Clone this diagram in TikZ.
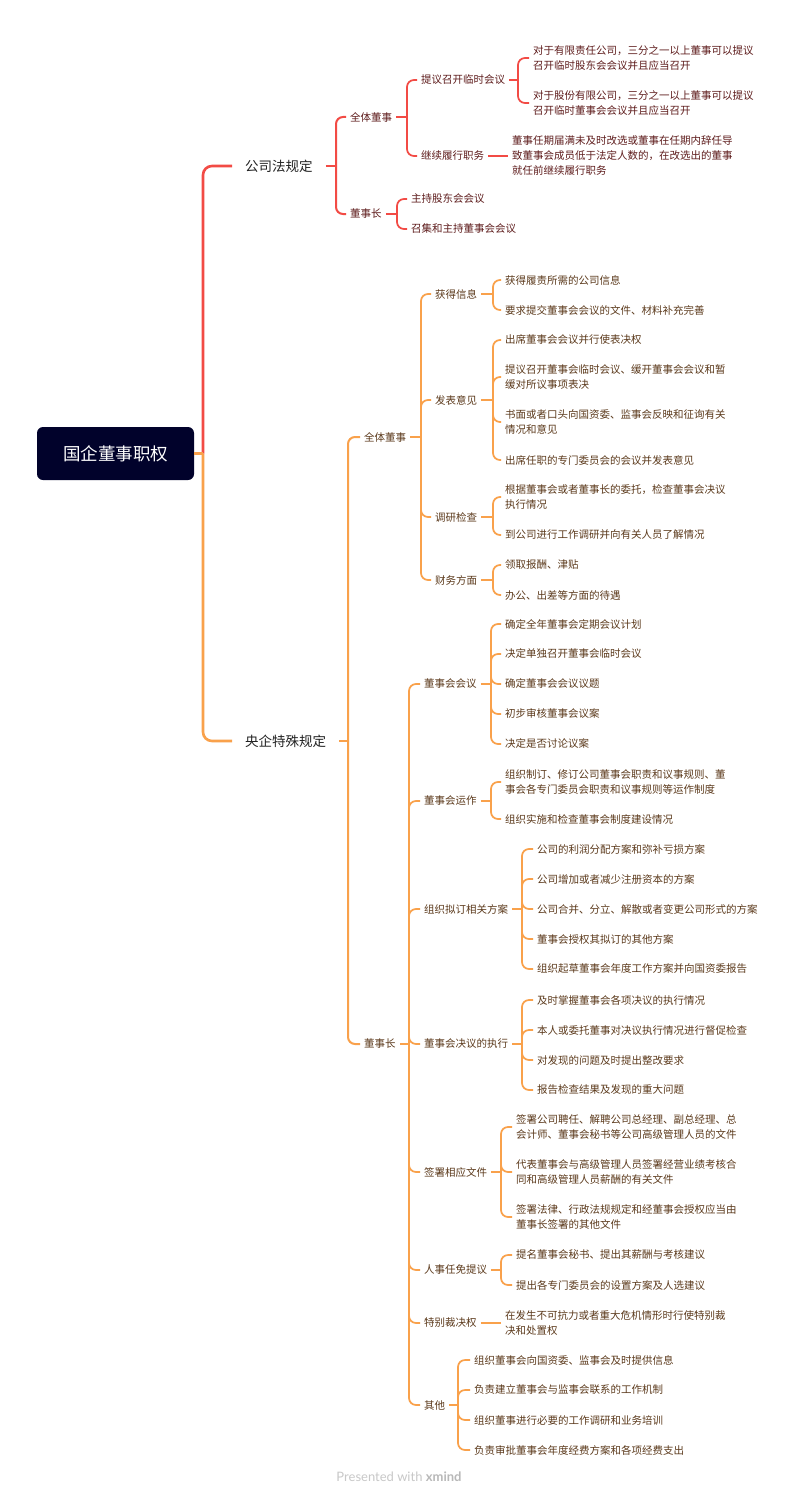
\documentclass[tikz,border=0pt]{standalone}
\usepackage{fontspec}
\setmainfont{Noto Sans CJK SC}
\newfontfamily\footfont{Lato}
\definecolor{redline}{HTML}{F24B45}
\definecolor{orline}{HTML}{F9A14B}
\definecolor{redtext}{HTML}{5E1C1C}
\definecolor{ortext}{HTML}{5C3A1C}
\definecolor{lonetext}{HTML}{222222}
\definecolor{rootfill}{HTML}{01022B}
\definecolor{footgray}{HTML}{C8C8C8}
\definecolor{footdark}{HTML}{B8B8B8}
\begin{document}
\begin{tikzpicture}[x=1pt,y=-1pt,
  rootbox/.style={rectangle,rounded corners=6pt,fill=rootfill,text=white,
    font=\fontsize{17.5}{20}\selectfont,minimum width=157pt,minimum height=53pt,inner sep=0pt},
  lone/.style={anchor=west,inner xsep=13pt,inner ysep=2pt,text=lonetext,
    font=\fontsize{13.5}{16}\selectfont},
  nR/.style={anchor=west,inner xsep=4pt,inner ysep=1pt,align=left,text=redtext,
    font=\fontsize{10.5}{15}\selectfont},
  nO/.style={nR,text=ortext},
  trunkR/.style={draw=redline,line width=2.6pt,rounded corners=9pt},
  trunkO/.style={draw=orline,line width=2.6pt,rounded corners=9pt},
  lR2/.style={draw=redline,line width=2pt,rounded corners=7pt},
  lO2/.style={draw=orline,line width=2pt,rounded corners=7pt},
  lR3/.style={draw=redline,line width=1.7pt,rounded corners=7pt},
  lO3/.style={draw=orline,line width=1.7pt,rounded corners=7pt}]
\useasboundingbox (0,0) rectangle (800,1501);
\fill[white] (0,0) rectangle (800,1501);

% root and main branches
\node[rootbox] (root) at (115.5,453.5) {国企董事职权};
\node[lone] (A) at (232,166) {公司法规定};
\node[lone] (B) at (232,741) {央企特殊规定};

% ---------- red branch ----------
\node[nR] (A1) at (346,117) {全体董事};
\node[nR] (A2) at (346,214) {董事长};
\node[nR] (A11) at (417,80) {提议召开临时会议};
\node[nR] (A12) at (417,156) {继续履行职务};
\node[nR] (A111) at (529,58) {对于有限责任公司，三分之一以上董事可以提议\\召开临时股东会会议并且应当召开};
\node[nR] (A112) at (529,103) {对于股份有限公司，三分之一以上董事可以提议\\召开临时董事会会议并且应当召开};
\node[nR] (A121) at (508,156) {董事任期届满未及时改选或董事在任期内辞任导\\致董事会成员低于法定人数的，在改选出的董事\\就任前继续履行职务};
\node[nR] (A21) at (407,199) {主持股东会会议};
\node[nR] (A22) at (407,229) {召集和主持董事会会议};

% ---------- orange branch ----------
\node[nO] (B1) at (360,437) {全体董事};
\node[nO] (B2) at (360,1044) {董事长};
\node[nO] (B11) at (431,294) {获得信息};
\node[nO] (B12) at (431,400) {发表意见};
\node[nO] (B13) at (431,517) {调研检查};
\node[nO] (B14) at (431,580) {财务方面};
\node[nO] (B111) at (501,280) {获得履责所需的公司信息};
\node[nO] (B112) at (501,310) {要求提交董事会会议的文件、材料补充完善};
\node[nO] (B121) at (501,340) {出席董事会会议并行使表决权};
\node[nO] (B122) at (501,377) {提议召开董事会临时会议、缓开董事会会议和暂\\缓对所议事项表决};
\node[nO] (B123) at (501,422) {书面或者口头向国资委、监事会反映和征询有关\\情况和意见};
\node[nO] (B124) at (501,460) {出席任职的专门委员会的会议并发表意见};
\node[nO] (B131) at (501,497) {根据董事会或者董事长的委托，检查董事会决议\\执行情况};
\node[nO] (B132) at (501,535) {到公司进行工作调研并向有关人员了解情况};
\node[nO] (B141) at (501,565) {领取报酬、津贴};
\node[nO] (B142) at (501,595) {办公、出差等方面的待遇};

\node[nO] (B21) at (420,684) {董事会会议};
\node[nO] (B22) at (420,801) {董事会运作};
\node[nO] (B23) at (420,909) {组织拟订相关方案};
\node[nO] (B24) at (420,1044) {董事会决议的执行};
\node[nO] (B25) at (420,1172) {签署相应文件};
\node[nO] (B26) at (420,1270) {人事任免提议};
\node[nO] (B27) at (420,1323) {特别裁决权};
\node[nO] (B28) at (420,1405) {其他};

\node[nO] (B211) at (501,624) {确定全年董事会定期会议计划};
\node[nO] (B212) at (501,654) {决定单独召开董事会临时会议};
\node[nO] (B213) at (501,684) {确定董事会会议议题};
\node[nO] (B214) at (501,714) {初步审核董事会议案};
\node[nO] (B215) at (501,744) {决定是否讨论议案};
\node[nO] (B221) at (501,782) {组织制订、修订公司董事会职责和议事规则、董\\事会各专门委员会职责和议事规则等运作制度};
\node[nO] (B222) at (501,819) {组织实施和检查董事会制度建设情况};
\node[nO] (B231) at (533,849) {公司的利润分配方案和弥补亏损方案};
\node[nO] (B232) at (533,879) {公司增加或者减少注册资本的方案};
\node[nO] (B233) at (533,909) {公司合并、分立、解散或者变更公司形式的方案};
\node[nO] (B234) at (533,939) {董事会授权其拟订的其他方案};
\node[nO] (B235) at (533,969) {组织起草董事会年度工作方案并向国资委报告};
\node[nO] (B241) at (533,1000) {及时掌握董事会各项决议的执行情况};
\node[nO] (B242) at (533,1030) {本人或委托董事对决议执行情况进行督促检查};
\node[nO] (B243) at (533,1060) {对发现的问题及时提出整改要求};
\node[nO] (B244) at (533,1090) {报告检查结果及发现的重大问题};
\node[nO] (B251) at (512,1127) {签署公司聘任、解聘公司总经理、副总经理、总\\会计师、董事会秘书等公司高级管理人员的文件};
\node[nO] (B252) at (512,1172) {代表董事会与高级管理人员签署经营业绩考核合\\同和高级管理人员薪酬的有关文件};
\node[nO] (B253) at (512,1217) {签署法律、行政法规规定和经董事会授权应当由\\董事长签署的其他文件};
\node[nO] (B261) at (512,1255) {提名董事会秘书、提出其薪酬与考核建议};
\node[nO] (B262) at (512,1285) {提出各专门委员会的设置方案及人选建议};
\node[nO] (B271) at (501,1323) {在发生不可抗力或者重大危机情形时行使特别裁\\决和处置权};
\node[nO] (B281) at (470,1360) {组织董事会向国资委、监事会及时提供信息};
\node[nO] (B282) at (470,1390) {负责建立董事会与监事会联系的工作机制};
\node[nO] (B283) at (470,1420) {组织董事进行必要的工作调研和业务培训};
\node[nO] (B284) at (470,1450) {负责审批董事会年度经费方案和各项经费支出};

% footer
\node[font=\footfont\fontsize{13}{15}\selectfont,text=footgray] (foot) at (399,1477) {Presented with \textcolor{footdark}{\textbf{xmind}}};

% ---------- junctions ----------
\coordinate (jR) at (203,453.5);
\coordinate (jA) at (336,166);
\coordinate (jA1) at (407,117);
\coordinate (jA11) at (518,80);
\coordinate (jA2) at (397,214);
\coordinate (jB) at (348,741);
\coordinate (jB1) at (421,437);
\coordinate (jB11) at (493,294);
\coordinate (jB12) at (493,400);
\coordinate (jB13) at (493,517);
\coordinate (jB14) at (493,580);
\coordinate (jB2) at (409,1044);
\coordinate (jB21) at (491,684);
\coordinate (jB22) at (491,801);
\coordinate (jB23) at (522,909);
\coordinate (jB24) at (522,1044);
\coordinate (jB25) at (501,1172);
\coordinate (jB26) at (501,1270);
\coordinate (jB28) at (458,1405);

% ---------- trunk ----------
\draw[trunkR] (jR) |- (A.west);
\draw[trunkO] (jR) |- (B.west);
\draw[trunkO] (root.east) -- (jR);

% ---------- red connectors ----------
\draw[lR2] (A.east) -- (jA);
\foreach \c in {A1,A2} \draw[lR2] (jA) |- (\c.west);
\draw[lR3] (A1.east) -- (jA1);
\foreach \c in {A11,A12} \draw[lR3] (jA1) |- (\c.west);
\draw[lR3] (A11.east) -- (jA11);
\foreach \c in {A111,A112} \draw[lR3] (jA11) |- (\c.west);
\draw[lR3] (A12.east) -- (A121.west);
\draw[lR3] (A2.east) -- (jA2);
\foreach \c in {A21,A22} \draw[lR3] (jA2) |- (\c.west);

% ---------- orange connectors ----------
\draw[lO2] (B.east) -- (jB);
\foreach \c in {B1,B2} \draw[lO2] (jB) |- (\c.west);
\draw[lO3] (B1.east) -- (jB1);
\foreach \c in {B11,B12,B13,B14} \draw[lO3] (jB1) |- (\c.west);
\draw[lO3] (B11.east) -- (jB11);
\foreach \c in {B111,B112} \draw[lO3] (jB11) |- (\c.west);
\draw[lO3] (B12.east) -- (jB12);
\foreach \c in {B121,B122,B123,B124} \draw[lO3] (jB12) |- (\c.west);
\draw[lO3] (B13.east) -- (jB13);
\foreach \c in {B131,B132} \draw[lO3] (jB13) |- (\c.west);
\draw[lO3] (B14.east) -- (jB14);
\foreach \c in {B141,B142} \draw[lO3] (jB14) |- (\c.west);

\draw[lO3] (B2.east) -- (jB2);
\foreach \c in {B21,B22,B23,B24,B25,B26,B27,B28} \draw[lO3] (jB2) |- (\c.west);
\draw[lO3] (B21.east) -- (jB21);
\foreach \c in {B211,B212,B213,B214,B215} \draw[lO3] (jB21) |- (\c.west);
\draw[lO3] (B22.east) -- (jB22);
\foreach \c in {B221,B222} \draw[lO3] (jB22) |- (\c.west);
\draw[lO3] (B23.east) -- (jB23);
\foreach \c in {B231,B232,B233,B234,B235} \draw[lO3] (jB23) |- (\c.west);
\draw[lO3] (B24.east) -- (jB24);
\foreach \c in {B241,B242,B243,B244} \draw[lO3] (jB24) |- (\c.west);
\draw[lO3] (B25.east) -- (jB25);
\foreach \c in {B251,B252,B253} \draw[lO3] (jB25) |- (\c.west);
\draw[lO3] (B26.east) -- (jB26);
\foreach \c in {B261,B262} \draw[lO3] (jB26) |- (\c.west);
\draw[lO3] (B27.east) -- (B271.west);
\draw[lO3] (B28.east) -- (jB28);
\foreach \c in {B281,B282,B283,B284} \draw[lO3] (jB28) |- (\c.west);
\end{tikzpicture}
\end{document}
